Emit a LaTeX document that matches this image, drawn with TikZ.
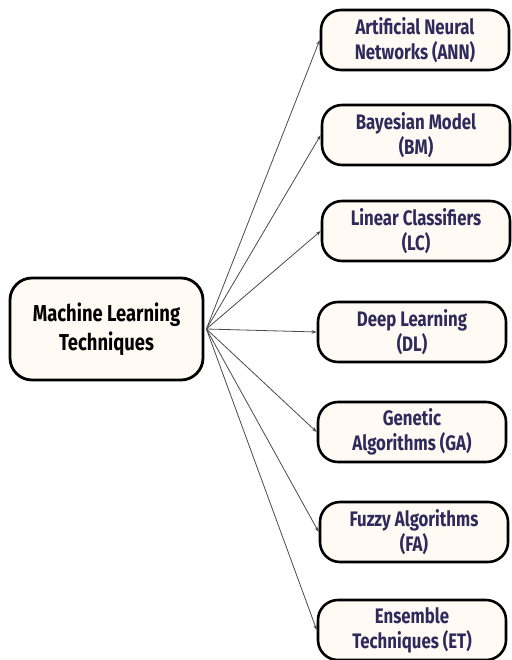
\documentclass[tikz,border=0pt]{standalone}
\usepackage{fontspec}
\setmainfont{Fira Sans}
\newfontfamily\condfont{Fira Sans}[FakeStretch=0.8]
\usetikzlibrary{arrows.meta}
\definecolor{boxfill}{HTML}{FFFAF3}
\definecolor{navy}{HTML}{2E2A5C}
\definecolor{linkgray}{HTML}{4A4A4A}
\tikzset{
  mainbox/.style={draw=black, line width=2.8pt, fill=boxfill, rounded corners=22pt,
    minimum width=193pt, minimum height=102pt, align=center, inner sep=0pt,
    font=\condfont\fontsize{23}{29}\selectfont\bfseries, text=black},
  leafbox/.style={draw=black, line width=2.6pt, fill=boxfill, rounded corners=20pt,
    minimum width=188pt, minimum height=60pt, align=center, inner sep=0pt,
    font=\condfont\fontsize{21}{25}\selectfont\bfseries, text=navy},
  link/.style={draw=linkgray, line width=0.8pt, -{Stealth[length=5pt,width=3.5pt]}}
}
\begin{document}
\begin{tikzpicture}[x=1pt,y=-1pt]
\useasboundingbox (0,0) rectangle (511,660);
\node[mainbox] (ml) at (106.5,329) {Machine Learning\\Techniques};
\node[leafbox] (ann) at (415,40) {Artificial Neural\\Networks (ANN)};
\node[leafbox] (bm) at (416,135) {Bayesian Model\\(BM)};
\node[leafbox] (lc) at (416,231) {Linear Classifiers\\(LC)};
\node[leafbox] (dl) at (412,332) {Deep Learning\\(DL)};
\node[leafbox] (ga) at (412,432) {Genetic\\Algorithms (GA)};
\node[leafbox] (fa) at (414,532) {Fuzzy Algorithms\\(FA)};
\node[leafbox] (et) at (412,630) {Ensemble\\Techniques (ET)};
\coordinate (src) at ([xshift=2pt]ml.east);
\foreach \t in {ann,bm,lc,dl,ga,fa,et}{
  \draw[link] (src) -- (\t.west);
}
\end{tikzpicture}
\end{document}
